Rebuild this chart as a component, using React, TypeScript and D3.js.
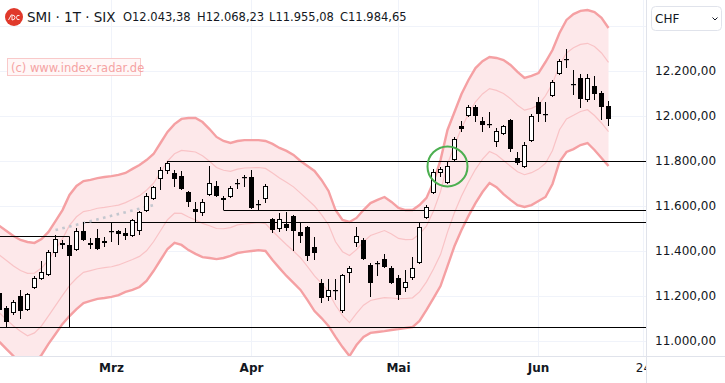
import React from "react";
import * as d3 from "d3";

// ---- data (one entry per trading day, index 0 = first visible bar) ----
const opens = [
  11213, 11147, 11125, 11200, 11138, 11236, 11276, 11293, 11391, 11436,
  11427, 11404, 11489, 11436, 11458, 11445, 11487, 11489, 11480, 11467,
  11489, 11578, 11631, 11720, 11756, 11747, 11733, 11662, 11587, 11569,
  11649, 11689, 11627, 11640, 11698, 11727, 11729, 11609, 11631, 11542,
  11498, 11520, 11556, 11485, 11507, 11418, 11258, 11196, 11224, 11133,
  11302, 11436, 11449, 11338, 11345, 11365, 11325, 11280, 11236, 11280,
  11347, 11547, 11658, 11747, 11702, 11804, 11956, 12000, 12040, 11978,
  11965, 11884, 11920, 11982, 11813, 11773, 11889, 12062, 12009, 12089,
  12187, 12253, 12140, 12169, 12071, 12133, 12102, 12043.38,
];
const highs = [
  11222, 11156, 11182, 11227, 11213, 11289, 11356, 11404, 11471, 11449,
  11436, 11502, 11531, 11458, 11498, 11462, 11524, 11493, 11502, 11542,
  11578, 11658, 11689, 11773, 11800, 11760, 11756, 11667, 11618, 11631,
  11778, 11711, 11645, 11689, 11720, 11738, 11760, 11627, 11698, 11547,
  11569, 11573, 11560, 11529, 11511, 11462, 11276, 11276, 11276, 11298,
  11333, 11507, 11458, 11347, 11356, 11387, 11333, 11293, 11316, 11373,
  11524, 11604, 11765, 11773, 11796, 11907, 11978, 12049, 12049, 11996,
  12018, 11947, 11960, 11987, 11840, 11884, 12009, 12084, 12062, 12160,
  12253, 12298, 12204, 12187, 12187, 12178, 12111, 12068.23,
];
const lows = [
  11125, 11062, 11116, 11098, 11133, 11231, 11271, 11289, 11373, 11409,
  11373, 11400, 11445, 11409, 11404, 11418, 11440, 11427, 11449, 11462,
  11471, 11573, 11627, 11671, 11742, 11684, 11671, 11596, 11531, 11556,
  11645, 11640, 11582, 11636, 11676, 11684, 11587, 11582, 11613, 11480,
  11485, 11489, 11400, 11436, 11356, 11360, 11169, 11178, 11182, 11125,
  11258, 11418, 11360, 11196, 11289, 11324, 11253, 11182, 11218, 11271,
  11342, 11542, 11653, 11729, 11698, 11796, 11929, 11996, 11973, 11929,
  11947, 11862, 11916, 11840, 11782, 11769, 11884, 11973, 11973, 12084,
  12182, 12213, 12093, 12036, 12062, 12071, 11982, 11955.08,
];
const closes = [
  11138, 11085, 11173, 11133, 11209, 11280, 11307, 11396, 11453, 11427,
  11378, 11489, 11449, 11427, 11409, 11436, 11485, 11476, 11467, 11538,
  11573, 11644, 11684, 11760, 11791, 11720, 11676, 11618, 11573, 11618,
  11702, 11645, 11636, 11680, 11702, 11729, 11591, 11608, 11689, 11494,
  11542, 11502, 11489, 11467, 11378, 11391, 11191, 11227, 11227, 11293,
  11325, 11467, 11365, 11258, 11347, 11329, 11258, 11205, 11262, 11325,
  11507, 11596, 11751, 11765, 11778, 11898, 11942, 12040, 12000, 11960,
  11962, 11933, 11956, 11853, 11791, 11871, 12000, 12009, 12008, 12151,
  12244, 12252, 12142, 12076, 12169, 12098, 12040, 11984.65,
];

// Bollinger-style envelope (outer = thick, inner = thin)
const upperOuter = [
  11511, 11489, 11467, 11449, 11440, 11436, 11453, 11485, 11533, 11582,
  11649, 11689, 11711, 11716, 11724, 11729, 11733, 11738, 11747, 11765,
  11782, 11804, 11831, 11880, 11929, 11964, 11987, 11991, 11991, 11973,
  11942, 11907, 11889, 11880, 11889, 11893, 11893, 11893, 11889, 11876,
  11858, 11845, 11827, 11800, 11778, 11756, 11716, 11667, 11582, 11538,
  11529, 11547, 11582, 11613, 11627, 11640, 11618, 11591, 11582, 11582,
  11604, 11636, 11707, 11804, 11938, 12018, 12098, 12160, 12213, 12244,
  12262, 12258, 12249, 12227, 12196, 12169, 12178, 12191, 12240, 12293,
  12369, 12427, 12453, 12467, 12471, 12462, 12436, 12391,
];
const upperInner = [
  11382, 11358, 11333, 11313, 11301, 11302, 11324, 11360, 11407, 11455,
  11514, 11552, 11575, 11581, 11590, 11594, 11599, 11604, 11615, 11630,
  11646, 11670, 11701, 11750, 11799, 11832, 11847, 11844, 11840, 11823,
  11799, 11771, 11759, 11754, 11764, 11769, 11770, 11771, 11767, 11747,
  11724, 11706, 11685, 11657, 11629, 11600, 11562, 11517, 11441, 11397,
  11380, 11406, 11441, 11469, 11480, 11491, 11476, 11456, 11451, 11452,
  11475, 11511, 11578, 11664, 11787, 11869, 11947, 12009, 12063, 12098,
  12122, 12114, 12100, 12077, 12048, 12026, 12034, 12049, 12090, 12144,
  12226, 12280, 12303, 12318, 12323, 12309, 12280, 12238,
];
const lowerInner = [
  11125, 11095, 11067, 11043, 11023, 11036, 11067, 11112, 11157, 11203,
  11246, 11279, 11305, 11313, 11321, 11326, 11330, 11338, 11350, 11362,
  11376, 11401, 11441, 11490, 11539, 11568, 11567, 11551, 11538, 11523,
  11512, 11500, 11499, 11504, 11516, 11520, 11523, 11526, 11522, 11489,
  11458, 11428, 11400, 11370, 11331, 11289, 11256, 11217, 11159, 11114,
  11082, 11123, 11159, 11180, 11187, 11193, 11191, 11188, 11189, 11192,
  11218, 11263, 11320, 11384, 11484, 11571, 11644, 11707, 11763, 11808,
  11842, 11828, 11802, 11777, 11752, 11739, 11748, 11764, 11790, 11847,
  11939, 11987, 12003, 12020, 12028, 12002, 11969, 11931,
];
const lowerOuter = [
  10996, 10964, 10933, 10907, 10884, 10902, 10938, 10987, 11031, 11076,
  11111, 11142, 11169, 11178, 11187, 11191, 11196, 11204, 11218, 11227,
  11240, 11267, 11311, 11360, 11409, 11436, 11427, 11404, 11387, 11373,
  11369, 11364, 11369, 11378, 11391, 11396, 11400, 11404, 11400, 11360,
  11324, 11289, 11258, 11227, 11182, 11133, 11102, 11067, 11018, 10973,
  10933, 10982, 11018, 11036, 11040, 11044, 11049, 11053, 11058, 11062,
  11089, 11138, 11191, 11244, 11333, 11422, 11493, 11556, 11613, 11662,
  11702, 11684, 11653, 11627, 11604, 11596, 11604, 11622, 11640, 11698,
  11796, 11840, 11853, 11871, 11880, 11849, 11813, 11778,
];

// axes
const priceTicks = [11000, 11200, 11400, 11600, 11800, 12000, 12200];
const gridPrices = [11000, 11200, 11400, 11600, 11800, 12000, 12200, 12400];
const timeLabels = ["Mrz", "Apr", "Mai", "Jun", "24"];
const timeIndex = [16, 36, 57, 77, 92];
const timeBold = [true, true, true, true, false];

// drawn horizontal levels (price, start bar index)
const levelPrices = [11800, 11582, 11531, 11062];
const levelStart = [24, 32, 12, -1];
// box on the left: level 11467 from left edge to bar 10, then down to 11062
const boxPrice = 11467;
const boxEnd = 10;
// dotted trend line
const trendIdx = [8, 22];
const trendPrice = [11493, 11604];
// highlight circle
const circleIdx = 64;
const circlePrice = 11776;

const symbolTitle = "SMI · 1T · SIX";
const watermark = "(c) www.index-radar.de";
const currency = "CHF";

const FONT = "'DejaVu Sans', sans-serif";
const TEXT = "#131722";

export default function App() {
  const plotRight = 646;
  const plotBottom = 356;
  const n = opens.length;
  const x = d3.scaleLinear().domain([0, n - 1]).range([-0.5, 608.5]);
  const y = d3.scaleLinear().domain([11000, 12200]).range([341, 71]);
  const loc = d3.formatLocale({ decimal: ",", thousands: ".", grouping: [3], currency: ["", ""] });
  const fmt = loc.format(",.2f");

  const area = d3
    .area<number>()
    .x((_, i) => x(i))
    .y0((_, i) => y(lowerOuter[i]))
    .y1((d) => y(d));
  const line = d3
    .line<number>()
    .x((_, i) => x(i))
    .y((d) => y(d));

  const last = n - 1;
  const ohlc = [
    ["O", opens[last]],
    ["H", highs[last]],
    ["L", lows[last]],
    ["C", closes[last]],
  ] as [string, number][];
  const ohlcX = [123, 197, 269, 340];

  const snap = (v: number) => Math.round(v);

  return (
    <svg
      width={725}
      height={383}
      style={{ position: "absolute", left: 0, top: 0, background: "#fff" }}
      fontFamily={FONT}
    >
      <defs>
        <clipPath id="plot">
          <rect x={0} y={0} width={plotRight} height={plotBottom} />
        </clipPath>
        <clipPath id="timeclip">
          <rect x={0} y={plotBottom} width={plotRight} height={383 - plotBottom} />
        </clipPath>
      </defs>
      <rect x={0} y={0} width={725} height={383} fill="#fff" />
      <g clipPath="url(#plot)">
        {gridPrices.map((p) => (
          <line key={p} x1={0} x2={plotRight} y1={snap(y(p)) + 0.5} y2={snap(y(p)) + 0.5} stroke="#f0f3fa" />
        ))}
        {timeIndex.map((t) => (
          <line key={t} x1={x(t)} x2={x(t)} y1={0} y2={plotBottom} stroke="#f0f3fa" />
        ))}
        <path d={area(upperOuter) || ""} fill="#fde8ea" />
        <path d={line(upperInner) || ""} fill="none" stroke="#f9c3c6" strokeWidth={1.2} />
        <path d={line(lowerInner) || ""} fill="none" stroke="#f9c3c6" strokeWidth={1.2} />
        <path d={line(upperOuter) || ""} fill="none" stroke="#f5a0a3" strokeWidth={2.4} />
        <path d={line(lowerOuter) || ""} fill="none" stroke="#f5a0a3" strokeWidth={2.4} />

        {levelPrices.map((p, k) => {
          const yy = snap(y(p)) + 0.5;
          const x0 = levelStart[k] < 0 ? 0 : x(levelStart[k]);
          return <line key={p} x1={x0} x2={plotRight} y1={yy} y2={yy} stroke="#000" />;
        })}
        <line x1={0} x2={x(boxEnd)} y1={snap(y(boxPrice)) + 0.5} y2={snap(y(boxPrice)) + 0.5} stroke="#000" />
        <line x1={x(boxEnd)} x2={x(boxEnd)} y1={snap(y(boxPrice)) + 0.5} y2={snap(y(levelPrices[3])) + 0.5} stroke="#000" />

        <line
          x1={x(trendIdx[0])}
          y1={y(trendPrice[0])}
          x2={x(trendIdx[1])}
          y2={y(trendPrice[1])}
          stroke="#c4c7cf"
          strokeWidth={2.6}
          strokeDasharray="2.6 4.4"
        />

        {opens.map((o, i) => {
          const c = closes[i];
          const cx = x(i);
          const up = c >= o;
          const t = snap(y(Math.max(o, c)));
          const b = snap(y(Math.min(o, c)));
          const wick = (
            <line x1={cx} x2={cx} y1={snap(y(highs[i]))} y2={snap(y(lows[i]))} stroke="#000" />
          );
          let body;
          if (b - t <= 1) {
            body = <rect x={cx - 2.5} y={t} width={5} height={1.2} fill="#000" />;
          } else if (up) {
            body = <rect x={cx - 2} y={t + 0.5} width={4} height={b - t - 1} fill="#fff" stroke="#000" />;
          } else {
            body = <rect x={cx - 2.5} y={t} width={5} height={b - t} fill="#000" />;
          }
          return (
            <g key={i}>
              {wick}
              {body}
            </g>
          );
        })}

        <circle cx={x(circleIdx)} cy={y(circlePrice)} r={20} fill="none" stroke="#4caf50" strokeWidth={2} />
      </g>

      {/* header */}
      <circle cx={14} cy={17} r={9} fill="#e0392b" />
      <path d="M8.5 20 L11.5 14.5 M12 20 L12 15 Q15 15 15 17.5 Q15 20 12 20 M19.5 15.5 Q16.5 14.5 16.5 17.5 Q16.5 20.5 19.5 19.5" fill="none" stroke="#fff" strokeWidth={0.9} />
      <text x={27} y={17} dominantBaseline="central" fontSize={13.5} fill={TEXT}>
        {symbolTitle}
      </text>
      {ohlc.map(([k, v], i) => (
        <text key={k} x={ohlcX[i]} y={17} dominantBaseline="central" fontSize={11.5} fill={TEXT}>
          {k + fmt(v)}
        </text>
      ))}
      <rect x={7.5} y={58.5} width={133} height={17} fill="#fff7f7" stroke="#f9c9c9" />
      <text x={11} y={67.5} dominantBaseline="central" fontSize={11.5} fill="#f5a3a3">
        {watermark}
      </text>

      {/* right price axis */}
      <rect x={plotRight} y={0} width={725 - plotRight} height={383} fill="#fff" />
      <line x1={plotRight + 0.5} x2={plotRight + 0.5} y1={0} y2={383} stroke="#e0e3eb" />
      <line x1={0} x2={725} y1={plotBottom + 0.5} y2={plotBottom + 0.5} stroke="#e0e3eb" />
      {priceTicks.map((p) => (
        <text key={p} x={655} y={y(p)} dominantBaseline="central" fontSize={12} fill={TEXT}>
          {fmt(p)}
        </text>
      ))}
      <rect x={651.5} y={6.5} width={70} height={24} rx={4} fill="#fff" stroke="#e0e3eb" />
      <text x={655} y={19} dominantBaseline="central" fontSize={12} fill={TEXT}>
        {currency}
      </text>
      <path d="M712.5 17.5 L715 20 L717.5 17.5" fill="none" stroke={TEXT} strokeWidth={1} />

      {/* time axis */}
      <g clipPath="url(#timeclip)">
        {timeLabels.map((lab, i) => (
          <text
            key={lab}
            x={x(timeIndex[i])}
            y={368}
            textAnchor="middle"
            dominantBaseline="central"
            fontSize={12}
            fontWeight={timeBold[i] ? "bold" : "normal"}
            fill={TEXT}
          >
            {lab}
          </text>
        ))}
      </g>
    </svg>
  );
}
